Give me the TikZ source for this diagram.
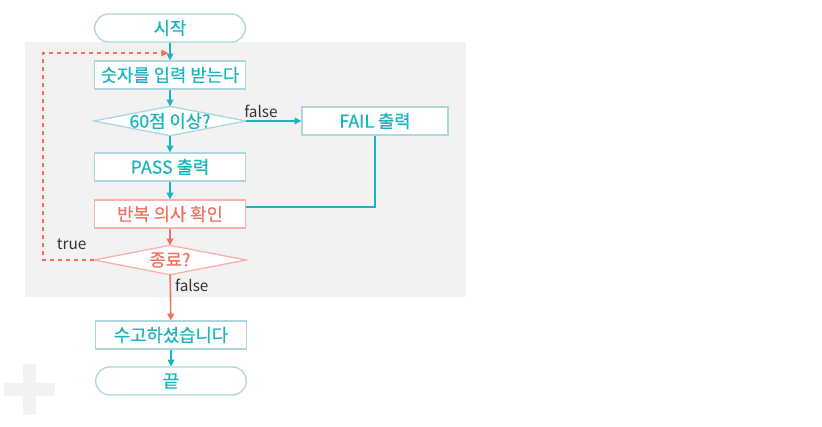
\documentclass[tikz,border=0pt]{standalone}
\usepackage{fontspec}
\setmainfont{Noto Sans CJK KR}
\newfontfamily\boxfont{Noto Sans CJK KR}[FakeBold=0.5]
\usetikzlibrary{positioning}
\usetikzlibrary{arrows.meta}
\definecolor{tealtxt}{HTML}{1AB4BE}
\definecolor{tealline}{HTML}{ADD6DE}
\definecolor{salmon}{HTML}{F2705F}
\definecolor{salmonline}{HTML}{F8B2A9}
\definecolor{bggray}{HTML}{F2F2F2}
\definecolor{labelgray}{HTML}{333333}
\tikzset{
  box/.style={draw=tealline, line width=1pt, fill=white, text=tealtxt, minimum width=113pt, minimum height=21pt, inner sep=0pt, font=\boxfont\fontsize{13.3}{15}\selectfont},
  redbox/.style={box, draw=salmonline, text=salmon},
  term/.style={box, rounded corners=10.5pt},
  decision/.style={box, draw=none, fill=none},
  tarrow/.style={-{Triangle[length=5pt,width=5pt]}, tealtxt, line width=1.2pt},
  rarrow/.style={tarrow, salmon},
  lbl/.style={text=labelgray, font=\fontsize{11.5}{13}\selectfont, inner sep=1pt}
}
\begin{document}
\begin{tikzpicture}[x=0.75pt, y=-0.75pt]
\useasboundingbox (0,0) rectangle (822,426);
% background
\fill[bggray] (25,42) rectangle (466,297);
\fill[bggray] (23,364) rectangle (36,415);
\fill[bggray] (4,383) rectangle (55,396);

\node[term] (start) at (170,28) {시작};
\node[box] (input) at (170,75) {숫자를 입력 받는다};
\node[decision] (pass) at (170,121) {60점 이상?};
\node[box, minimum width=109.5pt] (fail) at (375,121) {FAIL 출력};
\node[box] (passout) at (170,167) {PASS 출력};
\node[redbox] (again) at (170,214) {반복 의사 확인};
\node[decision, text=salmon] (quit) at (170,260) {종료?};
\node[box] (thanks) at (171,335) {수고하셨습니다};
\node[term] (finish) at (171,381) {끝};

% diamonds
\draw[tealline, line width=1pt, fill=white] (pass.west) -- (pass.north) -- (pass.east) -- (pass.south) -- cycle;
\node[decision] at (pass) {60점 이상?};
\draw[salmonline, line width=1pt, fill=white] (quit.west) -- (quit.north) -- (quit.east) -- (quit.south) -- cycle;
\node[decision, text=salmon] at (quit) {종료?};

\coordinate (corner) at (43,53);
\coordinate (loop) at (168,53);

\draw[tarrow] (start) -- (input);
\draw[tarrow] (input) -- (pass);
\draw[tarrow] (pass) -- node[lbl, above, pos=0.27, yshift=1pt] {false} (fail);
\draw[tarrow] (pass) -- (passout);
\draw[tarrow] (passout) -- (again);
\draw[tealtxt, line width=1.4pt] (fail.south) |- ([yshift=5pt]again.east);
\draw[rarrow] (again) -- (quit);
\draw[rarrow] (quit) -- node[lbl, right, pos=0.23, xshift=2pt] {false} (thanks);
\draw[tarrow] (thanks) -- (finish);
\draw[rarrow, line width=0.8pt, dashed] (quit.west) -| node[lbl, above, pos=0.22, yshift=6pt] {true} (corner) -- (loop);
\end{tikzpicture}
\end{document}
